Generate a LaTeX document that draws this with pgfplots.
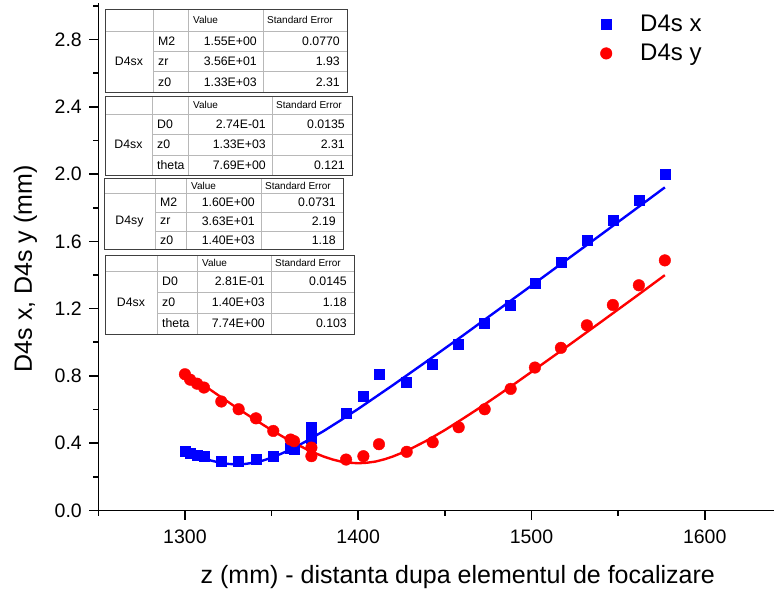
\documentclass[border=0pt]{standalone}
\usepackage{fontspec}
\setmainfont{Liberation Sans}
\usepackage{pgfplots}
\pgfplotsset{compat=1.18}

\definecolor{fitblue}{RGB}{0,0,255}
\definecolor{fitred}{RGB}{255,0,0}

\tikzset{
  tabouter/.style={draw=black!75, line width=1pt},
  tabinner/.style={draw=black!28, line width=0.8pt},
  tabhdr/.style={font=\fontsize{10}{12}\selectfont, inner sep=0pt},
  tabcell/.style={font=\fontsize{12.3}{14}\selectfont, inner sep=0pt},
}

% Parameter table of a fit: #1 column edges, #2 row edges, #3 data set, #4 rows name/value/error
\newcommand\fittable[4]{%
  \foreach \xa/\xb/\xc/\xd/\xe in {#1}{%
  \foreach \ya/\yb/\yc/\yd/\ye in {#2}{%
    \fill[white] (\xa,-\ya) rectangle (\xe,-\ye);
    \draw[tabinner] (\xa,-\yb) -- (\xe,-\yb);
    \draw[tabinner] (\xb,-\yc) -- (\xe,-\yc) (\xb,-\yd) -- (\xe,-\yd);
    \draw[tabinner] (\xb,-\ya) -- (\xb,-\ye) (\xc,-\ya) -- (\xc,-\ye) (\xd,-\ya) -- (\xd,-\ye);
    \draw[tabouter] (\xa,-\ya) rectangle (\xe,-\ye);
    \node[tabhdr,anchor=west] at (\xc+5,{-(\ya+\yb)/2}) {Value};
    \node[tabhdr,anchor=west] at (\xd+4,{-(\ya+\yb)/2}) {Standard Error};
    \node[tabcell] at ({(\xa+\xb)/2},{-(\yb+\ye)/2}) {#3};
    \foreach \pn/\pv/\pe [count=\i] in {#4}{%
      \pgfmathsetmacro\yt{{\yb,\yc,\yd}[\i-1]}%
      \pgfmathsetmacro\yu{{\yc,\yd,\ye}[\i-1]}%
      \node[tabcell,anchor=west] at (\xb+5,{-(\yt+\yu)/2}) {\pn};
      \node[tabcell,anchor=east] at (\xd-6,{-(\yt+\yu)/2}) {\pv};
      \node[tabcell,anchor=east] at (\xe-7,{-(\yt+\yu)/2}) {\pe};
    }%
  }}%
}

\begin{document}
\begin{tikzpicture}
\useasboundingbox (0pt,0pt) rectangle (774pt,-590pt);
\begin{axis}[
  at={(98.3pt,-510.5pt)}, anchor=south west,
  scale only axis, width=675.7pt, height=508pt,
  xmin=1250, xmax=1640, ymin=0, ymax=3.02,
  clip=false,
  axis x line=bottom, axis y line=left,
  axis line style={-, line width=1.6pt},
  tick align=outside, major tick length=9pt, minor tick length=5pt,
  every tick/.style={line width=1.6pt, black},
  xtick={1300,1400,1500,1600},
  minor xtick={1250,1350,1450,1550},
  ytick={0,0.4,0.8,1.2,1.6,2.0,2.4,2.8},
  minor ytick={0.2,0.6,1.0,1.4,1.8,2.2,2.6,3.0},
  /pgf/number format/assume math mode=true,
  tick label style={font=\fontsize{19.5}{23}\selectfont},
  xticklabel style={/pgf/number format/1000 sep={}, yshift=-7pt},
  yticklabel style={/pgf/number format/fixed, /pgf/number format/fixed zerofill, /pgf/number format/precision=1, xshift=-4pt},
  xlabel={z (mm) - distanta dupa elementul de focalizare},
  xlabel style={font=\fontsize{25}{30}\selectfont, at={(axis description cs:0.532,0)}, anchor=center, yshift=-67pt},
  ylabel={D4s x, D4s y (mm)},
  ylabel style={font=\fontsize{25}{30}\selectfont, at={(axis description cs:0,0.476)}, anchor=center, yshift=73pt},
  legend style={draw=none, fill=none, at={(axis description cs:0.7366,0.975)}, anchor=north west,
    font=\fontsize{24}{28}\selectfont, row sep=11pt, inner sep=0pt,
    nodes={inner sep=0pt}},
  legend cell align=left,
  legend image code/.code={%
    \path[draw=none, fill=none] (0pt,-4pt) rectangle (44pt,4pt);
    \draw[#1, only marks] plot coordinates {(10pt,0pt)};},
]
\addplot[only marks, mark=square*, mark size=5pt, color=fitblue] coordinates {
  (1300,0.351) (1303,0.339) (1307,0.329) (1311,0.323) (1321,0.295) (1331,0.291)
  (1341,0.303) (1351,0.323) (1361,0.373) (1363,0.362) (1373,0.432) (1373,0.493)
  (1393,0.576) (1403,0.681) (1412,0.810) (1428,0.765) (1443,0.869) (1458,0.988)
  (1473,1.113) (1488,1.222) (1502,1.349) (1517,1.476) (1532,1.604) (1547,1.723)
  (1562,1.843) (1577,1.998)
};
\addlegendentry{D4s x}
\addplot[only marks, mark=*, mark size=5.8pt, color=fitred] coordinates {
  (1300,0.810) (1303,0.778) (1307,0.754) (1311,0.731) (1321,0.648) (1331,0.602)
  (1341,0.548) (1351,0.473) (1361,0.422) (1363,0.412) (1373,0.374) (1373,0.323)
  (1393,0.303) (1403,0.323) (1412,0.394) (1428,0.349) (1443,0.406) (1458,0.495)
  (1473,0.602) (1488,0.723) (1502,0.850) (1517,0.967) (1532,1.101) (1547,1.222)
  (1562,1.339) (1577,1.487)
};
\addlegendentry{D4s y}
% fitted beam-width curves
\addplot[forget plot, fitblue, line width=2.4pt, no marks] coordinates {
  (1300,0.358) (1305,0.335) (1310,0.314) (1315,0.297) (1320,0.285) (1325,0.277)
  (1330,0.274) (1335,0.277) (1340,0.285) (1345,0.297) (1350,0.314) (1355,0.335)
  (1360,0.358) (1365,0.384) (1370,0.412) (1380,0.472) (1390,0.537) (1400,0.604)
  (1420,0.745) (1440,0.890) (1460,1.037) (1480,1.187) (1500,1.337) (1520,1.488)
  (1540,1.639) (1560,1.791) (1577,1.921)
};
\addplot[forget plot, fitred, line width=2.4pt, no marks] coordinates {
  (1300,0.824) (1310,0.751) (1320,0.680) (1330,0.610) (1340,0.543) (1350,0.478)
  (1360,0.418) (1370,0.365) (1375,0.342) (1380,0.321) (1385,0.304) (1390,0.291)
  (1395,0.284) (1400,0.281) (1405,0.284) (1410,0.291) (1415,0.304) (1420,0.321)
  (1425,0.342) (1430,0.365) (1440,0.418) (1450,0.478) (1460,0.543) (1470,0.610)
  (1480,0.680) (1490,0.751) (1500,0.824) (1520,0.971) (1540,1.120) (1560,1.270)
  (1577,1.399)
};
\end{axis}
\begin{scope}[x=1pt,y=1pt]
\fittable{105/153/188/263/347}{9/31/51.7/71.7/92.3}{D4sx}
  {M2/1.55E+00/0.0770, zr/3.56E+01/1.93, z0/1.33E+03/2.31}
\fittable{105/152/188/272/352}{96/114/134/155/175.3}{D4sx}
  {D0/2.74E-01/0.0135, z0/1.33E+03/2.31, theta/7.69E+00/0.121}
\fittable{104/155/186/261/343}{178.3/193.3/212/231/249}{D4sy}
  {M2/1.60E+00/0.0731, zr/3.63E+01/2.19, z0/1.40E+03/1.18}
\fittable{105/157/197/271/354}{255/271/292.5/313/334}{D4sx}
  {D0/2.81E-01/0.0145, z0/1.40E+03/1.18, theta/7.74E+00/0.103}
\end{scope}
\end{tikzpicture}
\end{document}
